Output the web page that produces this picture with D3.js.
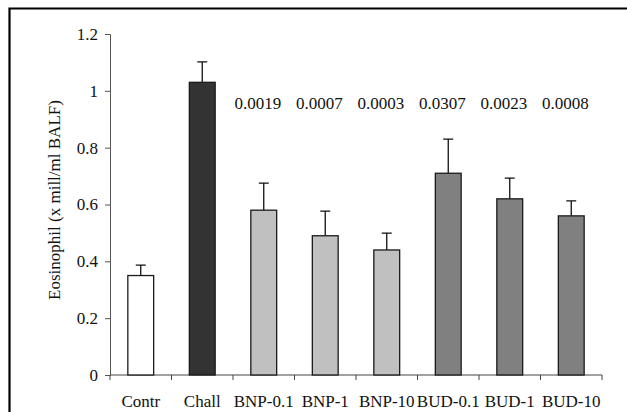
<!DOCTYPE html>
<html>
<head>
<meta charset="utf-8">
<script src="https://cdn.jsdelivr.net/npm/d3@7"></script>
<style>
  body { margin: 0; background: #fff; }
  svg text { font-family: "Liberation Serif", "Times New Roman", serif; }
</style>
</head>
<body>
<div class="chart"></div>
<script>
// data
const groups = ["Contr", "Chall", "BNP-0.1", "BNP-1", "BNP-10", "BUD-0.1", "BUD-1", "BUD-10"];
const means = [0.35, 1.03, 0.58, 0.49, 0.44, 0.71, 0.62, 0.56];
const errTops = [0.387, 1.102, 0.675, 0.577, 0.499, 0.830, 0.693, 0.613];
const pValues = ["", "", "0.0019", "0.0007", "0.0003", "0.0307", "0.0023", "0.0008"];
const fills = ["#ffffff", "#333333", "#c0c0c0", "#c0c0c0", "#c0c0c0", "#808080", "#808080", "#808080"];
const yTicks = [0, 0.2, 0.4, 0.6, 0.8, 1, 1.2];

const w = 627;
const h = 412;
const svg = d3.select('.chart')
    .append('svg')
    .attr('width', w)
    .attr('height', h);

// outer frame (only top and left visible)
svg.append('path')
    .attr('d', 'M9.5,412 L9.5,8.5 L627,8.5')
    .attr('fill', 'none')
    .attr('stroke', '#000')
    .attr('stroke-width', 2.2);

const x = d3.scaleBand()
    .domain(groups)
    .range([110, 602])
    .padding(0);

const y = d3.scaleLinear()
    .domain([0, 1.2])
    .range([375, 34]);

const barW = x.bandwidth() * 0.42;

// y axis
const yAxis = svg.append('g')
    .attr('transform', 'translate(110,0)')
    .call(d3.axisLeft(y).tickValues(yTicks).tickSize(5).tickPadding(7)
        .tickFormat(d => d === 0 ? "0" : d3.format("~g")(d)));
yAxis.select('.domain').attr('stroke', '#555');
yAxis.selectAll('.tick line').attr('stroke', '#555');
yAxis.selectAll('text')
    .attr('font-size', 17)
    .attr('fill', '#111')
    .style('font-family', '"Liberation Serif", serif');

// x axis with ticks at group boundaries
svg.append('line')
    .attr('x1', 110).attr('x2', 602)
    .attr('y1', y(0)).attr('y2', y(0))
    .attr('stroke', '#444');
const bounds = groups.map(g => x(g)).concat([x(groups[groups.length - 1]) + x.bandwidth()]);
svg.selectAll('.xtick')
    .data(bounds)
    .enter()
    .append('line')
    .attr('class', 'xtick')
    .attr('x1', d => d).attr('x2', d => d)
    .attr('y1', y(0)).attr('y2', y(0) + 5)
    .attr('stroke', '#444');

svg.selectAll('.xlabel')
    .data(groups)
    .enter()
    .append('text')
    .attr('class', 'xlabel')
    .attr('x', d => x(d) + x.bandwidth() / 2)
    .attr('y', 407)
    .attr('text-anchor', 'middle')
    .attr('font-size', 17)
    .attr('fill', '#111')
    .text(d => d);

// error bars (upper only), drawn under bars
svg.selectAll('.err')
    .data(groups)
    .enter()
    .append('path')
    .attr('class', 'err')
    .attr('d', (d, i) => {
        const cx = x(d) + x.bandwidth() / 2;
        return `M${cx},${y(means[i])} L${cx},${y(errTops[i])} M${cx - 5},${y(errTops[i])} L${cx + 5},${y(errTops[i])}`;
    })
    .attr('fill', 'none')
    .attr('stroke', '#111')
    .attr('stroke-width', 1.3);

// bars
svg.selectAll('.bar')
    .data(groups)
    .enter()
    .append('rect')
    .attr('class', 'bar')
    .attr('x', d => x(d) + x.bandwidth() / 2 - barW / 2)
    .attr('y', (d, i) => y(means[i]))
    .attr('width', barW)
    .attr('height', (d, i) => y(0) - y(means[i]))
    .attr('fill', (d, i) => fills[i])
    .attr('stroke', '#1a1a1a')
    .attr('stroke-width', 1.3);

// p-values
svg.selectAll('.pval')
    .data(groups)
    .enter()
    .append('text')
    .attr('class', 'pval')
    .attr('x', d => x(d) + x.bandwidth() / 2 - 6)
    .attr('y', 109)
    .attr('text-anchor', 'middle')
    .attr('font-size', 17)
    .attr('fill', '#111')
    .text((d, i) => pValues[i]);

// y axis title
svg.append('text')
    .attr('transform', 'translate(60,200) rotate(-90)')
    .attr('text-anchor', 'middle')
    .attr('font-size', 17)
    .attr('fill', '#111')
    .text('Eosinophil (x mill/ml BALF)');
</script>
</body>
</html>
